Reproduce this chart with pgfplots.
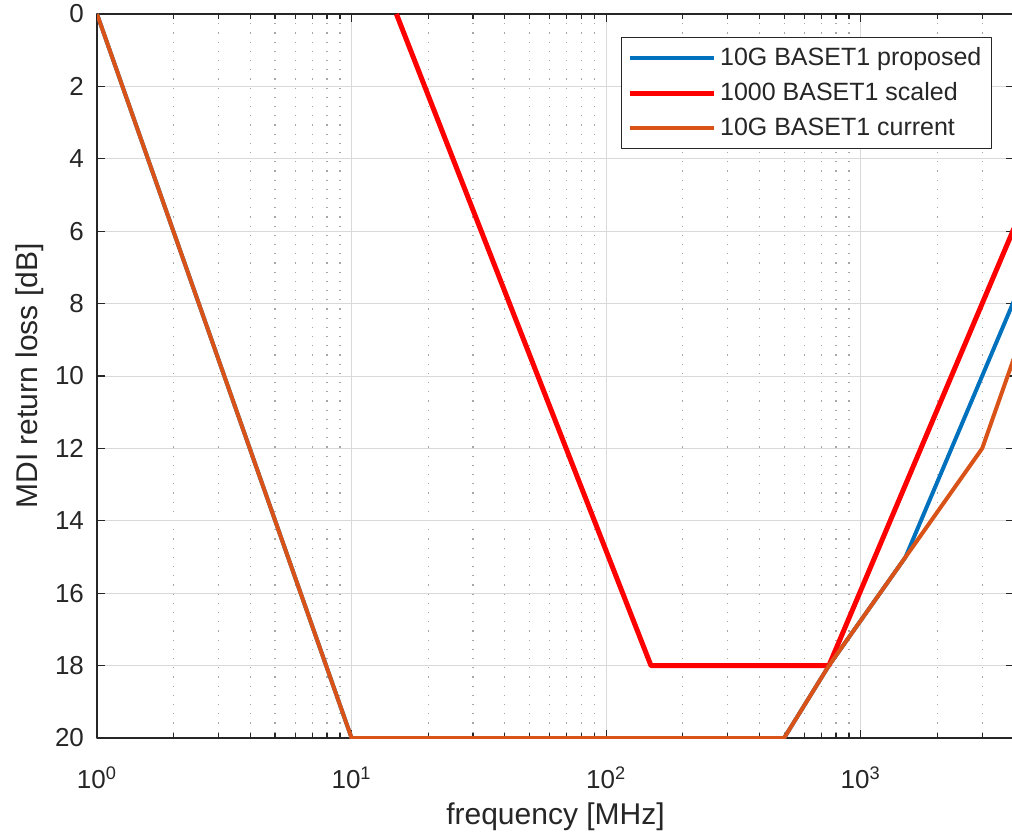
\documentclass[border=0pt]{standalone}
\usepackage{fontspec}
\setmainfont{Liberation Sans}
\usepackage{pgfplots}
\pgfplotsset{compat=1.18}
\definecolor{mblue}{RGB}{0,114,189}
\definecolor{mred}{RGB}{255,0,0}
\definecolor{morange}{RGB}{217,83,25}
\definecolor{axc}{RGB}{38,38,38}
\begin{document}
\begin{tikzpicture}
\begin{axis}[
 at={(0,0)}, anchor=south west,
 scale only axis, width=458.5pt, height=362pt,
 xmode=log, xmin=1, xmax=4000, ymin=0, ymax=20, y dir=reverse,
 ytick={0,2,...,20},
 xtick={1,10,100,1000},
 xticklabels={10\textsuperscript{0},10\textsuperscript{1},10\textsuperscript{2},10\textsuperscript{3}},
 minor xtick={2,3,4,5,6,7,8,9,20,30,40,50,60,70,80,90,200,300,400,500,600,700,800,900,2000,3000},
 grid=both,
 major grid style={draw=black!15, line width=0.5pt},
 minor grid style={draw=black!35, line width=0.6pt, dash pattern=on 0.6pt off 4pt},
 tick align=inside, major tick length=4pt, minor tick length=2.5pt,
 axis line style={axc, line width=0.6pt},
 tick style={axc, line width=0.6pt},
 /pgf/number format/assume math mode=true,
 ticklabel style={font=\fontsize{13}{15}\selectfont, text=axc},
 yticklabel style={xshift=-3pt},
 xticklabel style={yshift=-11pt},
 label style={font=\fontsize{15}{17}\selectfont, text=axc},
 ylabel style={yshift=-1pt},
 xlabel style={yshift=0pt},
 xlabel={frequency [MHz]}, ylabel={MDI return loss [dB]},
 legend cell align=left,
 legend style={at={(axis description cs:1,1)}, anchor=north east, xshift=-11pt, yshift=-11.5pt,
   draw=axc, line width=0.6pt, font=\fontsize{12.5}{14}\selectfont, text=axc,
   row sep=3pt, inner sep=3pt},
 legend image code/.code={\draw[#1] (0pt,0pt) -- (42pt,0pt);},
 line join=round,
]
\addplot[mblue, line width=2pt] coordinates {(1,0) (10,20) (500,20) (750,18) (1500,15) (4000,7.92)};
\addlegendentry{10G BASET1 proposed}
\addplot[mred, line width=2.5pt] coordinates {(15,0) (150,18) (750,18) (4000,5.92)};
\addlegendentry{1000 BASET1 scaled}
\addplot[morange, line width=2pt] coordinates {(1,0) (10,20) (500,20) (750,18) (1500,15) (3000,12) (4000,9.5)};
\addlegendentry{10G BASET1 current}
\end{axis}
\pgfresetboundingbox
\path[use as bounding box] (-48.5pt,-48pt) rectangle (457.5pt,369pt);
\end{tikzpicture}
\end{document}
